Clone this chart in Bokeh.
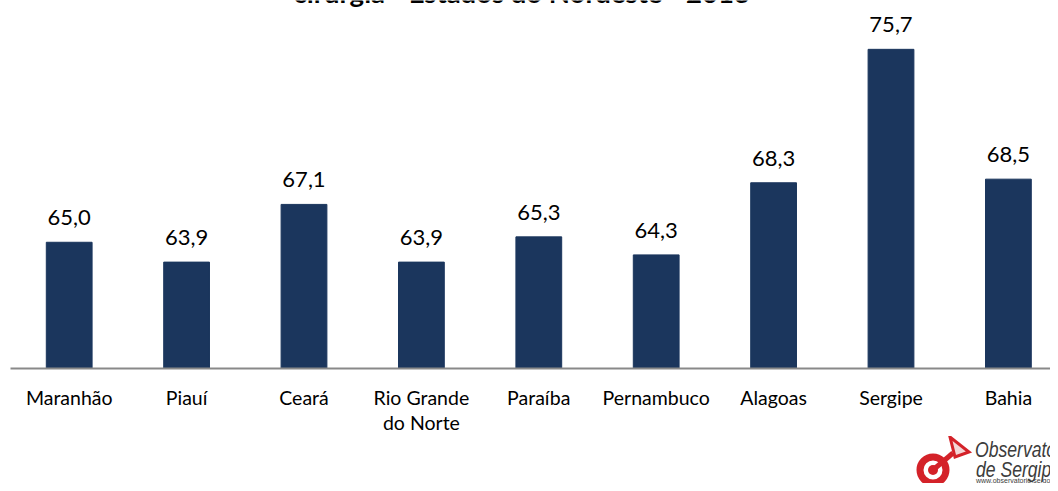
from bokeh.plotting import figure
from bokeh.models import Range1d, FixedTicker, ColumnDataSource, LabelSet, Label, Div
from bokeh.layouts import column
from bokeh.core.properties import value
from bokeh.embed import file_html
from bokeh.resources import INLINE

categories = ["Maranhão", "Piauí", "Ceará", "Rio Grande\ndo Norte", "Paraíba",
              "Pernambuco", "Alagoas", "Sergipe", "Bahia"]
values = [65.0, 63.9, 67.1, 63.9, 65.3, 64.3, 68.3, 75.7, 68.5]
title_text = "cirurgia - Estados do Nordeste - 2013"

BAR = "#1b365d"
FONT = "Lato"
Y0 = 58
PX_PER_UNIT = 18.13
CAT_PX = 117.4
FRAME_W = 1040
FRAME_H = 370
Y1 = Y0 + FRAME_H / PX_PER_UNIT

idx = list(range(len(categories)))
labels = [f"{v:.1f}".replace(".", ",") for v in values]
src = ColumnDataSource(dict(x=idx, top=values, label=labels))

p = figure(width=1050, height=436, output_backend="svg", toolbar_location=None,
           x_range=Range1d(-0.5, -0.5 + FRAME_W / CAT_PX), y_range=Range1d(Y0, Y1),
           min_border_left=10, min_border_right=0, min_border_top=0, min_border_bottom=66)
p.outline_line_color = None
p.grid.visible = False
p.yaxis.visible = False

p.vbar(x="x", top="top", bottom=Y0, width=0.39, source=src,
       fill_color=BAR, line_color=BAR)

p.add_layout(LabelSet(x="x", y="top", text="label", source=src, y_offset=17,
                      text_align="center", text_baseline="alphabetic",
                      text_font=value(FONT), text_font_size=value("22px"),
                      text_color="#000000"))

ax = p.xaxis[0]
ax.ticker = FixedTicker(ticks=idx)
ax.major_label_overrides = {i: c for i, c in zip(idx, categories)}
ax.axis_line_color = "#898989"
ax.axis_line_width = 2
ax.major_tick_line_color = None
ax.minor_tick_line_color = None
ax.major_label_standoff = 11
ax.major_label_text_font = FONT
ax.major_label_text_font_size = "19.5px"
ax.major_label_text_color = "#000000"
ax.major_label_text_line_height = 1.1

# title, cut at the top like the reference
p.add_layout(Label(x=(293 - 10) / CAT_PX - 0.5, y=Y1 + 8 / PX_PER_UNIT, text=title_text,
                   text_font=FONT, text_font_style="bold", text_font_size="27.5px",
                   text_baseline="alphabetic", text_align="left", text_color="#000000"))

logo_html = """
<div style="position:relative;width:1050px;height:47px;overflow:hidden;">
<svg width="1050" height="47" style="position:absolute;left:0;top:0;">
  <circle cx="933" cy="34" r="13" fill="none" stroke="#d42229" stroke-width="7"/>
  <circle cx="933" cy="34" r="5" fill="#d42229"/>
  <line x1="933" y1="34" x2="953" y2="17" stroke="#d42229" stroke-width="5"/>
  <polygon points="950,1 969,16 955,21" fill="#f3d6d6" stroke="#d42229" stroke-width="3"/>
  <text transform="translate(975,21) scale(0.8,1)" font-family="Open Sans" font-style="italic"
        font-size="22" fill="#3c3c3c">Observatório</text>
  <text transform="translate(976,41) scale(0.8,1)" font-family="Open Sans" font-style="italic"
        font-size="22" fill="#3c3c3c">de Sergipe</text>
  <text x="976" y="47" font-family="Open Sans" font-size="7" fill="#3c3c3c">www.observatorio.se.gov.br</text>
</svg>
</div>
"""
logo = Div(text=logo_html, width=1050, height=47, margin=0)

layout = column(p, logo, spacing=0)
open("out.html", "w").write(file_html(layout, INLINE))
